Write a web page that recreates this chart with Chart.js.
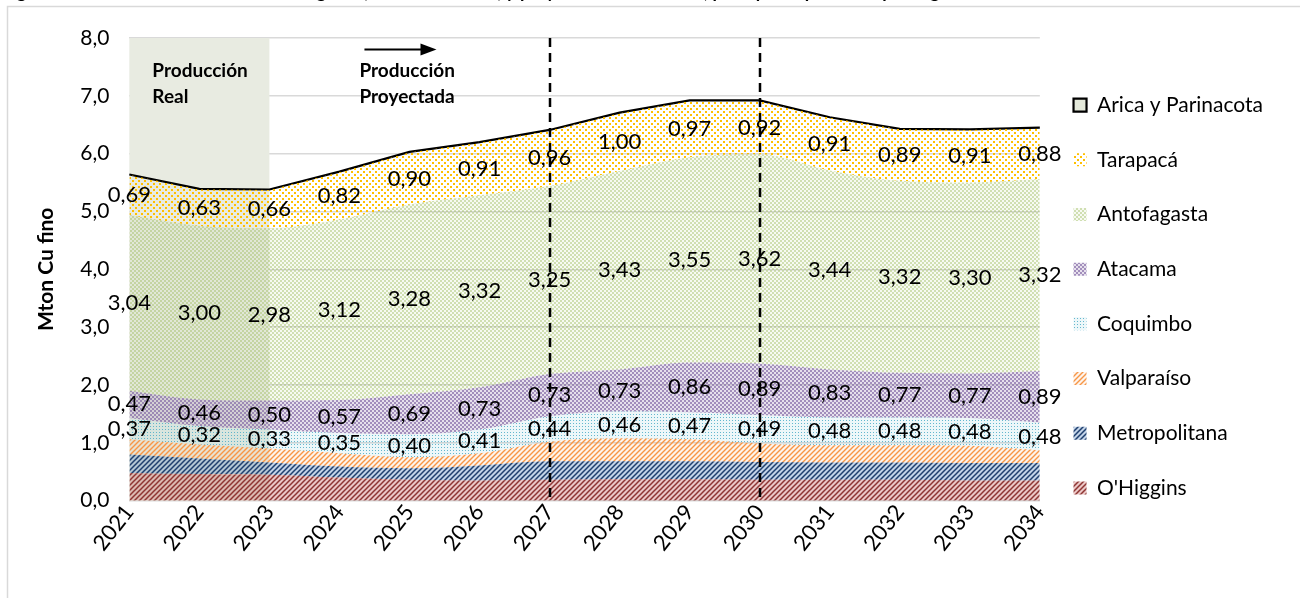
<!DOCTYPE html>
<html lang="es">
<head>
<meta charset="utf-8">
<title>Producción de cobre por región</title>
<script src="https://cdn.jsdelivr.net/npm/chart.js@4.4.1/dist/chart.umd.min.js"></script>
<style>
  html, body { margin: 0; padding: 0; background: #ffffff; }
  #wrap { position: relative; width: 1300px; height: 598px; }
</style>
</head>
<body>
<div id="wrap"><canvas id="chart" width="1300" height="598"></canvas></div>
<script>
// Años del periodo (2021-2023 real, 2024-2034 proyectado)
const years = ['2021','2022','2023','2024','2025','2026','2027','2028','2029','2030','2031','2032','2033','2034'];

// Producción por región, Mton Cu fino
const ohiggins      = [0.48, 0.46, 0.45, 0.40, 0.36, 0.35, 0.36, 0.37, 0.37, 0.36, 0.36, 0.36, 0.35, 0.35];
const metropolitana = [0.32, 0.27, 0.21, 0.19, 0.20, 0.26, 0.32, 0.31, 0.31, 0.31, 0.30, 0.30, 0.30, 0.30];
const valparaiso    = [0.26, 0.24, 0.24, 0.23, 0.19, 0.21, 0.34, 0.40, 0.38, 0.32, 0.30, 0.30, 0.30, 0.22];
const coquimbo      = [0.37, 0.32, 0.33, 0.35, 0.40, 0.41, 0.44, 0.46, 0.47, 0.49, 0.48, 0.48, 0.48, 0.48];
const atacama       = [0.47, 0.46, 0.50, 0.57, 0.69, 0.73, 0.73, 0.73, 0.86, 0.89, 0.83, 0.77, 0.77, 0.89];
const antofagasta   = [3.04, 3.00, 2.98, 3.12, 3.28, 3.32, 3.25, 3.43, 3.55, 3.62, 3.44, 3.32, 3.30, 3.32];
const tarapaca      = [0.69, 0.63, 0.66, 0.82, 0.90, 0.91, 0.96, 1.00, 0.97, 0.92, 0.91, 0.89, 0.91, 0.88];
const arica         = [0.01, 0.01, 0.01, 0.01, 0.01, 0.01, 0.01, 0.01, 0.01, 0.01, 0.01, 0.01, 0.01, 0.01];

// Eje vertical
const yTicks = [0, 1, 2, 3, 4, 5, 6, 7, 8];

// Marcadores del gráfico
const realYears = ['2021', '2023'];
const markerYears = ['2027', '2030'];

const FONT = 'Lato, "Liberation Sans", sans-serif';
const fmt = (v, d) => v.toFixed(d).replace('.', ',');

// ---- Tramas de relleno ----
function tile(size, paint) {
  const c = document.createElement('canvas');
  c.width = size; c.height = size;
  const g = c.getContext('2d');
  paint(g, size);
  return g.createPattern(c, 'repeat');
}
function stripes(bg, fg, size, lw) {
  return tile(size, (g, s) => {
    if (bg) { g.fillStyle = bg; g.fillRect(0, 0, s, s); }
    g.strokeStyle = fg; g.lineWidth = lw;
    g.beginPath();
    g.moveTo(-1, s + 1); g.lineTo(s + 1, -1);
    g.moveTo(-1, 1); g.lineTo(1, -1);
    g.moveTo(s - 1, s + 1); g.lineTo(s + 1, s - 1);
    g.stroke();
  });
}
function checker(a, b) {
  return tile(4, (g) => {
    g.fillStyle = b; g.fillRect(0, 0, 4, 4);
    g.fillStyle = a; g.fillRect(0, 0, 2, 2); g.fillRect(2, 2, 2, 2);
  });
}
function dots(bg, fg, size, dot, stagger) {
  return tile(size, (g, s) => {
    if (bg) { g.fillStyle = bg; g.fillRect(0, 0, s, s); }
    g.fillStyle = fg;
    g.fillRect(0, 0, dot, dot);
    if (stagger) g.fillRect(s / 2, s / 2, dot, dot);
  });
}

const fills = {
  ohiggins:      stripes('rgba(192,80,77,0.32)', '#8e3533', 5, 1.5),
  metropolitana: stripes('rgba(79,129,189,0.35)', '#1f3f6e', 5, 1.5),
  valparaiso:    stripes('rgba(247,150,70,0.10)', '#f79646', 5, 1.4),
  coquimbo:      dots('rgba(75,172,198,0.10)', 'rgba(75,172,198,0.85)', 3, 1, false),
  atacama:       checker('rgba(128,100,162,0.66)', 'rgba(128,100,162,0.20)'),
  antofagasta:   checker('rgba(155,187,89,0.42)', 'rgba(155,187,89,0.08)'),
  tarapaca:      dots(null, '#ffc000', 6, 2, true),
  arica:         '#e4e9da'
};

function area(label, data, bg, extra) {
  return Object.assign({
    label, data,
    backgroundColor: bg,
    borderWidth: 0,
    borderColor: 'rgba(0,0,0,0)',
    pointRadius: 0,
    cubicInterpolationMode: 'monotone',
    fill: '-1'
  }, extra || {});
}

const datasets = [
  area("O'Higgins", ohiggins, fills.ohiggins, { fill: 'origin' }),
  area('Metropolitana', metropolitana, fills.metropolitana),
  area('Valparaíso', valparaiso, fills.valparaiso),
  area('Coquimbo', coquimbo, fills.coquimbo, { showValues: true }),
  area('Atacama', atacama, fills.atacama, { showValues: true }),
  area('Antofagasta', antofagasta, fills.antofagasta, { showValues: true }),
  area('Tarapacá', tarapaca, fills.tarapaca, { showValues: true, cubicInterpolationMode: 'default', tension: 0 }),
  area('Arica y Parinacota', arica, fills.arica, { cubicInterpolationMode: 'default', tension: 0, borderWidth: 2.2, borderColor: '#000000' })
];

// Fondo blanco, marco y título superior
const frame = {
  id: 'frame',
  beforeDraw(chart) {
    const { ctx, width, height } = chart;
    ctx.save();
    ctx.fillStyle = '#ffffff';
    ctx.fillRect(0, 0, width, height);
    ctx.restore();
  },
  afterDraw(chart) {
    const { ctx, width, height } = chart;
    ctx.save();
    ctx.strokeStyle = '#d9d9d9';
    ctx.lineWidth = 1.5;
    ctx.strokeRect(7.5, 6.5, width + 10, height + 10);
    ctx.fillStyle = '#000000';
    ctx.font = 'bold 18px ' + FONT;
    ctx.textBaseline = 'alphabetic';
    ctx.textAlign = 'left';
    ctx.fillText('Figura 3: Producción de cobre a nivel regional, real 2021-2023, y proyectada 2024-2034, por tipo de producto por región', 2, -2);
    ctx.restore();
  }
};

// Franja de producción real
const realBand = {
  id: 'realBand',
  beforeDatasetsDraw(chart) {
    const { ctx, chartArea, scales } = chart;
    const x0 = scales.x.getPixelForValue(years.indexOf(realYears[0]));
    const x1 = scales.x.getPixelForValue(years.indexOf(realYears[1]));
    ctx.save();
    ctx.fillStyle = '#e8ebe1';
    ctx.fillRect(x0, chartArea.top, x1 - x0, chartArea.bottom - chartArea.top);
    ctx.restore();
  }
};

// Etiquetas de valor al centro de cada banda
const bandLabels = {
  id: 'bandLabels',
  afterDatasetsDraw(chart) {
    const { ctx } = chart;
    ctx.save();
    ctx.font = '22px ' + FONT;
    ctx.fillStyle = '#000000';
    ctx.textAlign = 'center';
    ctx.textBaseline = 'middle';
    chart.data.datasets.forEach((ds, i) => {
      if (!ds.showValues) return;
      const meta = chart.getDatasetMeta(i);
      const below = chart.getDatasetMeta(i - 1);
      meta.data.forEach((pt, j) => {
        const y = (pt.y + below.data[j].y) / 2;
        ctx.fillText(fmt(ds.data[j], 2), pt.x, y);
      });
    });
    ctx.restore();
  }
};

// Líneas de corte, rótulos y flecha
const markers = {
  id: 'markers',
  afterDatasetsDraw(chart) {
    const { ctx, chartArea, scales } = chart;
    const x = scales.x, y = scales.y;
    ctx.save();
    ctx.strokeStyle = '#000000';
    ctx.lineWidth = 2.5;
    ctx.setLineDash([9, 6]);
    markerYears.forEach(yr => {
      const px = Math.round(x.getPixelForValue(years.indexOf(yr)));
      ctx.beginPath();
      ctx.moveTo(px, chartArea.top);
      ctx.lineTo(px, chartArea.bottom);
      ctx.stroke();
    });
    ctx.setLineDash([]);

    ctx.fillStyle = '#000000';
    ctx.font = 'bold 19px ' + FONT;
    ctx.textAlign = 'left';
    ctx.textBaseline = 'middle';
    const rx = x.getPixelForValue(0) + 23;
    ctx.fillText('Producción', rx, y.getPixelForValue(7.44));
    ctx.fillText('Real', rx, y.getPixelForValue(6.98));
    const px = x.getPixelForValue(3) + 20;
    ctx.fillText('Producción', px, y.getPixelForValue(7.44));
    ctx.fillText('Proyectada', px, y.getPixelForValue(6.98));

    const ay = y.getPixelForValue(7.8);
    const ax0 = x.getPixelForValue(3) + 25;
    const ax1 = x.getPixelForValue(4) + 27;
    ctx.lineWidth = 2;
    ctx.beginPath();
    ctx.moveTo(ax0, ay);
    ctx.lineTo(ax1 - 14, ay);
    ctx.stroke();
    ctx.beginPath();
    ctx.moveTo(ax1, ay);
    ctx.lineTo(ax1 - 16, ay - 6);
    ctx.lineTo(ax1 - 16, ay + 6);
    ctx.closePath();
    ctx.fill();
    ctx.restore();
  }
};

new Chart(document.getElementById('chart'), {
  type: 'line',
  data: { labels: years, datasets },
  options: {
    responsive: false,
    animation: false,
    events: [],
    layout: { padding: { left: 34, top: 38, right: 27, bottom: 43 } },
    elements: { point: { radius: 0 } },
    plugins: {
      legend: {
        position: 'right',
        reverse: true,
        labels: {
          boxWidth: 13,
          boxHeight: 13,
          padding: 33.7,
          color: '#000000',
          font: { family: FONT, size: 21 }
        }
      },
      tooltip: { enabled: false },
      title: { display: false }
    },
    scales: {
      x: {
        grid: { display: false, drawTicks: false },
        border: { display: false },
        ticks: {
          minRotation: 52,
          maxRotation: 52,
          padding: 3,
          color: '#000000',
          font: { family: FONT, size: 22, lineHeight: 0.6 }
        }
      },
      y: {
        stacked: true,
        min: yTicks[0],
        max: yTicks[yTicks.length - 1],
        afterBuildTicks: (scale) => { scale.ticks = yTicks.map(v => ({ value: v })); },
        grid: { color: '#d9d9d9', lineWidth: 1.5, drawTicks: false },
        border: { display: false },
        ticks: {
          padding: 20,
          color: '#000000',
          font: { family: FONT, size: 21 },
          callback: (v) => fmt(v, 1)
        },
        title: {
          display: true,
          text: 'Mton Cu fino',
          color: '#000000',
          font: { family: FONT, size: 21, weight: 'bold' },
          padding: { top: 0, bottom: 1 }
        }
      }
    }
  },
  plugins: [frame, realBand, bandLabels, markers]
});
</script>
</body>
</html>
